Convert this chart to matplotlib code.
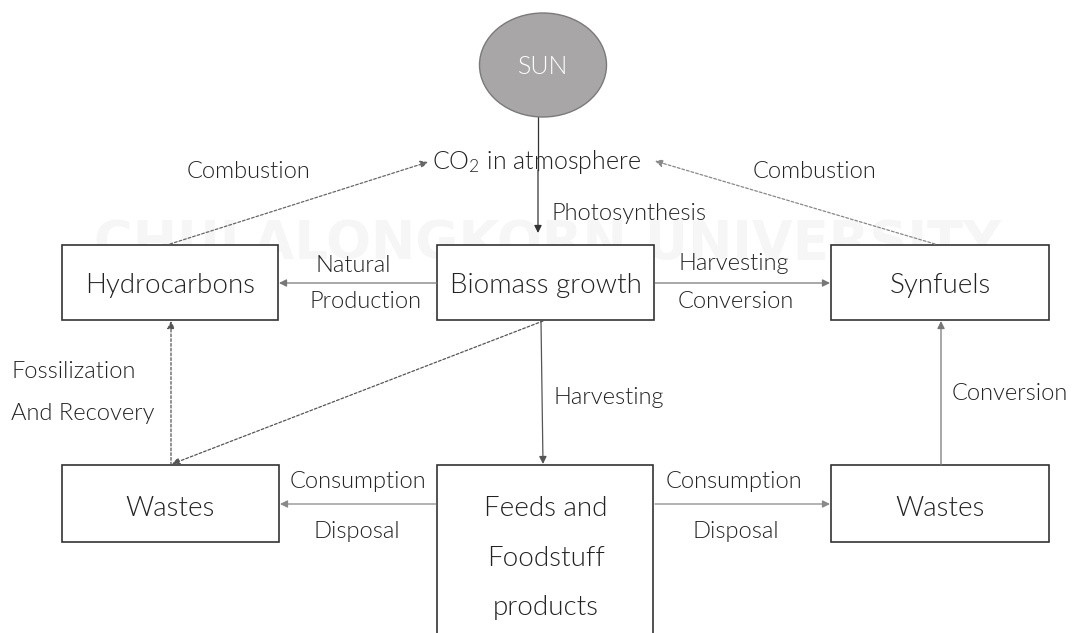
import matplotlib
matplotlib.use("Agg")
import matplotlib.pyplot as plt
from matplotlib.patches import Rectangle, Ellipse

plt.rcParams['font.family'] = ['Lato', 'DejaVu Sans']
plt.rcParams['mathtext.fontset'] = 'custom'
plt.rcParams['mathtext.rm'] = 'Lato:weight=300'
plt.rcParams['mathtext.it'] = 'Lato:weight=300'

# ---- content ----
box_names = ["Hydrocarbons", "Biomass growth", "Synfuels", "Wastes",
             "Feeds and\nFoodstuff\nproducts", "Wastes"]
sun_label = "SUN"
co2_label = r"$\mathrm{CO}_2$ in atmosphere"
edge_labels = ["Combustion", "Combustion", "Photosynthesis", "Natural", "Production",
               "Harvesting", "Conversion", "Fossilization", "And Recovery",
               "Harvesting", "Conversion", "Consumption", "Disposal",
               "Consumption", "Disposal"]
watermark = "CHULALONGKORN UNIVERSITY"

# ---- layout (pixel coordinates) ----
W, H = 1073, 633
fig = plt.figure(figsize=(W / 100, H / 100), dpi=100)
ax = fig.add_axes([0, 0, 1, 1])
ax.set_xlim(0, W)
ax.set_ylim(H, 0)
ax.axis('off')

TXT = '#222222'
EDGE = '#333333'
LW = 300

# faint watermark
ax.text(548, 244, watermark, fontsize=38, fontweight='bold', color='#f6f6f6',
        ha='center', va='center', family='DejaVu Sans', zorder=0)

# sun
ax.add_patch(Ellipse((543, 65), 127, 104, facecolor='#a8a6a6', edgecolor='#7a7a7a', lw=1.0, zorder=2))
ax.text(543, 67, sun_label, ha='center', va='center', fontsize=18, color='#ffffff',
        fontweight=LW, zorder=3)

box_rects = [(62, 245, 278, 320), (437, 245, 654, 320), (831, 245, 1049, 320),
             (62, 465, 279, 542), (437, 465, 653, 700), (831, 465, 1049, 542)]
box_text_pos = [(170, 285), (546, 285), (940, 285), (170, 508), (546, 558), (940, 508)]
for i, (name, (x0, y0, x1, y1), (tx, ty)) in enumerate(zip(box_names, box_rects, box_text_pos)):
    ax.add_patch(Rectangle((x0, y0), x1 - x0, y1 - y0, facecolor='white',
                           edgecolor=EDGE, lw=1.2, zorder=2))
    ax.text(tx, ty, name, ha='center', va='center', fontsize=20, color=TXT,
            fontweight=LW, linespacing=2.2, zorder=3)

# CO2 text
ax.text(537, 162, co2_label, ha='center', va='center', fontsize=18, color=TXT,
        fontweight=LW, zorder=3)

# edge labels: (x, y, ha)
label_pos = [(249, 172, 'center'), (815, 172, 'center'), (552, 213, 'left'),
             (353, 265, 'center'), (366, 301, 'center'),
             (734, 263, 'center'), (736, 301, 'center'),
             (11, 372, 'left'), (11, 413, 'left'),
             (553, 397, 'left'), (952, 394, 'left'),
             (358, 481, 'center'), (357, 532, 'center'),
             (734, 481, 'center'), (736, 532, 'center')]
for lab, (x, y, ha) in zip(edge_labels, label_pos):
    ax.text(x, y, lab, ha=ha, va='center', fontsize=17, color=TXT,
            fontweight=LW, zorder=3)

def arrow(p0, p1, dotted=False, color='#555555'):
    props = dict(arrowstyle='-|>', mutation_scale=11, lw=0.9, color=color,
                 shrinkA=0, shrinkB=0)
    if dotted:
        props['linestyle'] = (0, (2.2, 1.6))
    ax.annotate('', xy=p1, xytext=p0, arrowprops=props, zorder=4)

# solid arrows
ax.plot([538, 538], [117, 170], color='#333333', lw=0.9, zorder=1)
arrow((538, 170), (538, 233), color='#333333')
arrow((437, 283), (279, 283), color='#777777')
arrow((655, 283), (830, 283), color='#777777')
arrow((541, 321), (543, 464), color='#555555')
arrow((436, 504), (280, 504), color='#888888')
arrow((655, 504), (830, 504), color='#888888')
arrow((941, 465), (941, 321), color='#777777')

# dotted arrows
arrow((170, 244), (428, 162), dotted=True, color='#666666')
arrow((935, 244), (655, 161), dotted=True, color='#888888')
arrow((171, 465), (171, 321), dotted=True, color='#555555')
arrow((543, 321), (172, 464), dotted=True, color='#555555')

fig.savefig('out.png', dpi=100, facecolor='white')
